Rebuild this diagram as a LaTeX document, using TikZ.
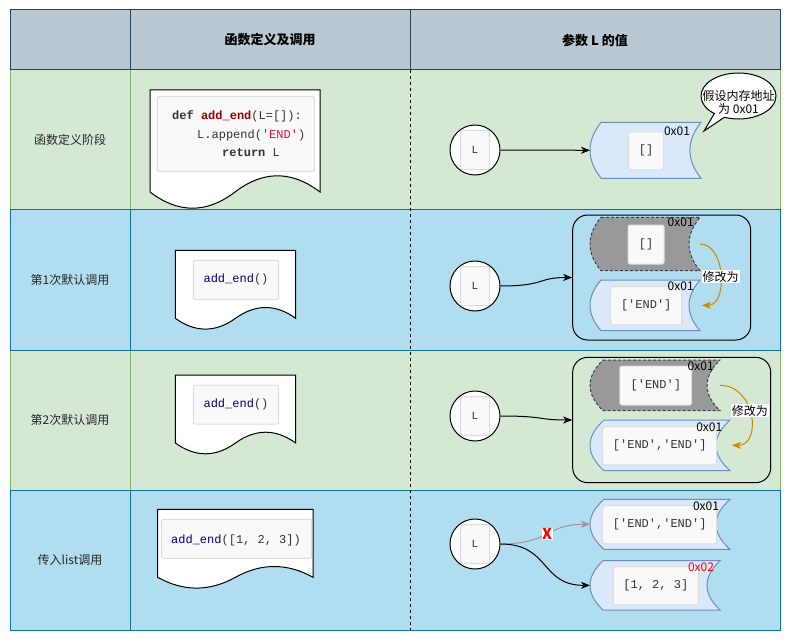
\documentclass[tikz,border=0pt]{standalone}
\usepackage{fontspec}
\setmainfont{Noto Sans CJK SC}
\newfontfamily\codefont{Liberation Mono}
\usetikzlibrary{arrows.meta,shapes.callouts}
\definecolor{headFill}{HTML}{BAC8D3}
\definecolor{headLine}{HTML}{23445D}
\definecolor{greenFill}{HTML}{D5E8D4}
\definecolor{greenLine}{HTML}{82B366}
\definecolor{blueFill}{HTML}{B1DDF0}
\definecolor{blueLine}{HTML}{10739E}
\definecolor{memFill}{HTML}{DAE8FC}
\definecolor{memLine}{HTML}{6C8EBF}
\definecolor{oldFill}{HTML}{999999}
\definecolor{oldLine}{HTML}{3A4250}
\definecolor{codeFill}{HTML}{F9F9F9}
\definecolor{codeLine}{HTML}{DDDDDD}
\definecolor{codeGray}{HTML}{333333}
\definecolor{codeFunc}{HTML}{990000}
\definecolor{codeString}{HTML}{DD1144}
\definecolor{codeCall}{HTML}{000080}
\definecolor{modColor}{HTML}{C88A00}
\definecolor{staleColor}{HTML}{999999}
\tikzstyle{headStyle} = [fill=headFill, draw=headLine]
\tikzstyle{headText} = [font=\bfseries\fontsize{13}{16}\selectfont, text=black]
\tikzstyle{stageText} = [font=\fontsize{12}{14}\selectfont, text=black!85]
\tikzstyle{docStyle} = [fill=white, draw=black]
\tikzstyle{codeBox} = [rectangle, fill=codeFill, draw=codeLine, rounded corners=2pt, inner sep=0]
\tikzstyle{codeText} = [font=\codefont\fontsize{12}{14}\selectfont, text=codeGray, inner sep=0]
\tikzstyle{refText} = [font=\codefont\fontsize{11}{13}\selectfont, text=codeGray, inner sep=0]
\tikzstyle{memStyle} = [fill=memFill, draw=memLine]
\tikzstyle{oldStyle} = [fill=oldFill, draw=oldLine, dash pattern=on 3pt off 2pt]
\tikzstyle{addrText} = [font=\fontsize{12}{14}\selectfont, inner sep=0]
\tikzstyle{refCircle} = [circle, draw=black, fill=white, minimum size=50pt, inner sep=0]
\tikzstyle{groupBox} = [rectangle, draw=black, rounded corners=15pt, inner sep=0]
\tikzstyle{refArrow} = [draw=black, -{Stealth[length=9pt, width=7pt, inset=2.5pt]}]
\tikzstyle{staleArrow} = [draw=staleColor, -{Stealth[length=9pt, width=7pt, inset=2.5pt]}]
\tikzstyle{modArrow} = [draw=modColor, -{Stealth[length=9pt, width=7pt, inset=2.5pt]}]
\tikzstyle{modLabel} = [fill=white, font=\fontsize{12}{14}\selectfont, inner sep=1pt]
\tikzstyle{crossLabel} = [fill=white, text=red, font=\bfseries\fontsize{15}{17}\selectfont, inner sep=0.5pt]
\newcommand{\sq}{\textquotesingle}
% document shape: x, y, width, height
\newcommand{\docShape}[4]{\filldraw [docStyle] (#1, #2) -- (#1 + #3, #2) -- (#1 + #3, #2 + 0.85 * #4) .. controls (#1 + 5 * #3 / 6, #2 + 0.67 * #4) and (#1 + 2 * #3 / 3, #2 + 0.67 * #4) .. (#1 + #3 / 2, #2 + 0.85 * #4) .. controls (#1 + #3 / 3, #2 + 1.03 * #4) and (#1 + #3 / 6, #2 + 1.03 * #4) .. (#1, #2 + 0.85 * #4) -- cycle;}
% stored data shape: style, name, x, y, width, height
\newcommand{\memShape}[6]{
  \filldraw [#1] (#3 + 0.1 * #5, #4) -- (#3 + #5, #4) .. controls (#3 + 0.8667 * #5, #4 + #6 / 3) and (#3 + 0.8667 * #5, #4 + 2 * #6 / 3) .. (#3 + #5, #4 + #6) -- (#3 + 0.1 * #5, #4 + #6) .. controls (#3 - 0.0333 * #5, #4 + 2 * #6 / 3) and (#3 - 0.0333 * #5, #4 + #6 / 3) .. (#3 + 0.1 * #5, #4) -- cycle;
  \coordinate (#2) at (#3, #4 + #6 / 2);
  \coordinate (#2R) at (#3 + #5, #4 + #6 / 2);
}
% reference circle with its label: name, x, y
\newcommand{\refNode}[3]{
  \node [refCircle] (#1) at (#2, #3) {};
  \node [codeBox, minimum width=29pt, minimum height=39pt] (#1box) at (#1) {};
  \node [refText] (#1text) at (#1) {L};
}
\begin{document}
\begin{tikzpicture}[x=1pt, y=-1pt, line width=1pt]
\useasboundingbox (0,0) rectangle (791,644);
% table
\foreach \rowTop/\fillColor/\lineColor in {70/greenFill/greenLine, 350/greenFill/greenLine, 210/blueFill/blueLine, 490/blueFill/blueLine} {
  \filldraw [fill=\fillColor, draw=\lineColor] (10,\rowTop) rectangle (130,\rowTop + 140);
  \filldraw [fill=\fillColor, draw=\lineColor] (130,\rowTop) rectangle (780,\rowTop + 140);
}
\draw [dash pattern=on 3pt off 3pt] (410,70) -- (410,630);
\foreach \colStart/\colEnd in {10/130, 130/410, 410/780} {
  \filldraw [headStyle] (\colStart,10) rectangle (\colEnd,70);
}
\node [headText] (headCode) at (270,40) {函数定义及调用};
\node [headText] (headValue) at (595,40) {参数 L 的值};
\node [stageText] (stageDef) at (70,140) {函数定义阶段};
\node [stageText] (stageFirst) at (70,280) {第1次默认调用};
\node [stageText] (stageSecond) at (70,420) {第2次默认调用};
\node [stageText] (stageList) at (70,560) {传入list调用};

% definition
\docShape{150}{90}{170}{120}
\node [codeBox, minimum width=157pt, minimum height=75pt] (defBox) at (235.8,134) {};
\node [codeText, anchor=west] (defLine) at (171.7,116.7) {\textbf{def} \textcolor{codeFunc}{\textbf{add\_end}}(L=[]):};
\node [codeText, anchor=west] (appendLine) at (196.7,135) {L.append(\textcolor{codeString}{\sq END\sq})};
\node [codeText, anchor=west] (returnLine) at (221.7,152.7) {\textbf{return} L};
\refNode{L1}{475}{150}
\memShape{memStyle}{mem1}{590}{122.3}{111}{56}
\node [codeBox, minimum width=35pt, minimum height=38pt] (mem1box) at (646,150.8) {};
\node [codeText] (mem1text) at (mem1box) {[]};
\node [addrText] (mem1addr) at (677,131.7) {0x01};
\draw [refArrow] (L1.east) -- (mem1);
\node [ellipse callout, draw=black, fill=white, minimum width=75pt, minimum height=46pt, inner sep=0, callout pointer arc=18, callout absolute pointer={(704,131)}] (bubble) at (738.5,96) {};
\node [addrText, align=center] (bubbleText) at (738.5,102) {假设内存地址\\[-1pt]为 0x01};

% first default call
\docShape{175.3}{250.3}{120.4}{80}
\node [codeBox, minimum width=85.4pt, minimum height=39pt] (call1box) at (236,279.8) {};
\node [codeText] (call1text) at (call1box) {\textcolor{codeCall}{add\_end}()};
\refNode{L2}{475}{286}
\node [groupBox, minimum width=178pt, minimum height=125pt] (group2) at (661.7,277.5) {};
\memShape{oldStyle}{old2}{590}{217.3}{110}{53.4}
\node [codeBox, minimum width=36pt, minimum height=39pt] (old2box) at (646,244.5) {};
\node [codeText] (old2text) at (old2box) {[]};
\node [addrText] (old2addr) at (680.7,222) {0x01};
\memShape{memStyle}{new2}{590}{280}{110}{50.7}
\node [codeBox, minimum width=71pt, minimum height=38.3pt] (new2box) at (646.2,305.8) {};
\node [codeText] (new2text) at (new2box) {[\sq END\sq]};
\node [addrText] (new2addr) at (680.7,286.7) {0x01};
\draw [modArrow] (old2R) .. controls +(26,0) and +(26,0) .. ([xshift=2pt]new2R) node [modLabel, pos=0.52] (mod2) {修改为};
\draw [refArrow] (L2.east) .. controls +(45,0) and +(-35,0) .. (group2.west);

% second default call
\docShape{175.3}{375}{120.4}{80}
\node [codeBox, minimum width=85.4pt, minimum height=39pt] (call2box) at (236,404.7) {};
\node [codeText] (call2text) at (call2box) {\textcolor{codeCall}{add\_end}()};
\refNode{L3}{475}{416}
\node [groupBox, minimum width=198pt, minimum height=125.4pt] (group3) at (671.7,420) {};
\memShape{oldStyle}{old3}{590}{360}{130}{50.7}
\node [codeBox, minimum width=71.7pt, minimum height=39pt] (old3box) at (655.8,385.5) {};
\node [codeText] (old3text) at (old3box) {[\sq END\sq]};
\node [addrText] (old3addr) at (700.7,366.7) {0x01};
\memShape{memStyle}{new3}{590}{420}{140}{50.7}
\node [codeBox, minimum width=114pt, minimum height=38.3pt] (new3box) at (659.7,445.8) {};
\node [codeText] (new3text) at (new3box) {[\sq END\sq,\sq END\sq]};
\node [addrText] (new3addr) at (709.3,427) {0x01};
\draw [modArrow] (old3R) .. controls +(36,0) and +(30,0) .. ([xshift=2pt]new3R) node [modLabel, pos=0.45] (mod3) {修改为};
\draw [refArrow] (L3.east) .. controls +(45,0) and +(-35,0) .. (group3.west);

% call with a list
\docShape{157.7}{509.3}{155.3}{80}
\node [codeBox, minimum width=150pt, minimum height=39pt] (call3box) at (236.7,538.8) {};
\node [codeText] (call3text) at (236,540) {\textcolor{codeCall}{add\_end}([1, 2, 3])};
\refNode{L4}{475}{544}
\memShape{memStyle}{mem4a}{590}{499.3}{140}{50}
\node [codeBox, minimum width=114pt, minimum height=38.3pt] (mem4abox) at (659.7,524.8) {};
\node [codeText] (mem4atext) at (mem4abox) {[\sq END\sq,\sq END\sq]};
\node [addrText] (mem4aaddr) at (706,506) {0x01};
\memShape{memStyle}{mem4b}{590}{560.7}{130}{49.3}
\node [codeBox, minimum width=85pt, minimum height=38.3pt] (mem4bbox) at (655.8,585.8) {};
\node [codeText] (mem4btext) at (mem4bbox) {[1, 2, 3]};
\node [addrText, text=red] (mem4baddr) at (701,567.3) {0x02};
\draw [staleArrow] (L4.east) .. controls +(50,0) and +(-45,0) .. node [crossLabel] (cross) {X} (mem4a);
\draw [refArrow] (L4.east) .. controls +(50,0) and +(-50,0) .. (mem4b);
\end{tikzpicture}
\end{document}
